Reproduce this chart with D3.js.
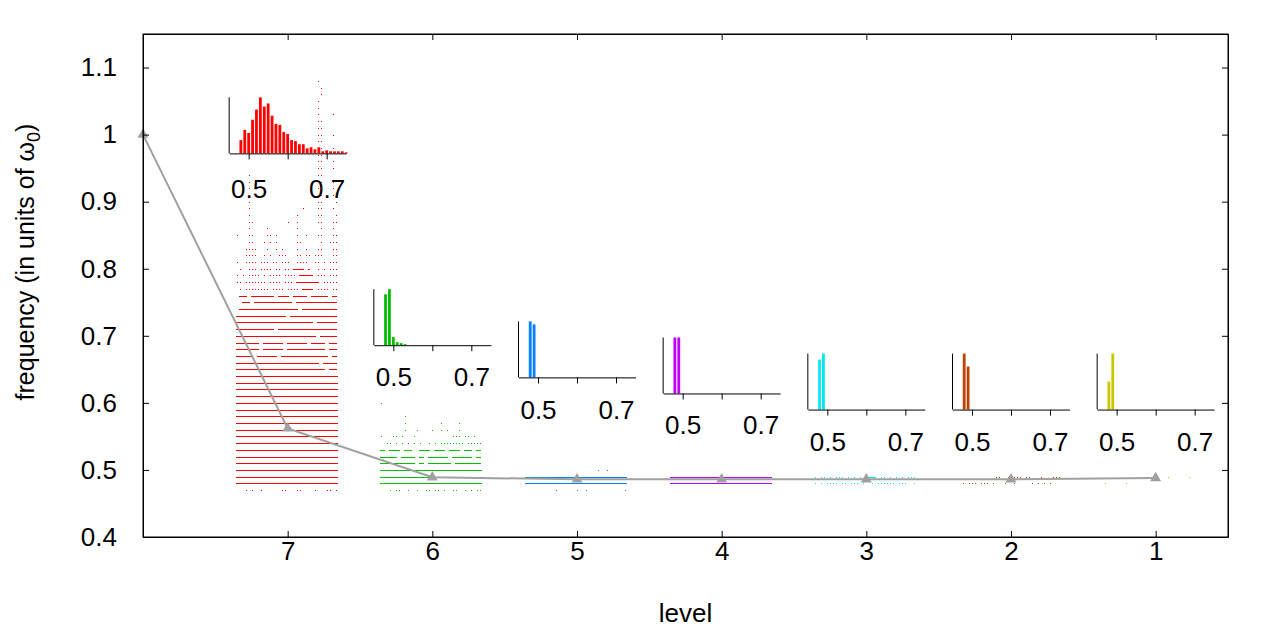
<!DOCTYPE html>
<html>
<head>
<meta charset="UTF-8">
<title>level spectra</title>
<style>
  body { margin: 0; background: #fff; }
  svg text { font-family: "Liberation Sans", Arial, Helvetica, sans-serif; }
</style>
</head>
<body>
<script src="https://cdn.jsdelivr.net/npm/d3@7/dist/d3.min.js"></script>
<svg id="chart" width="1280" height="640"></svg>
<script>
// ---------------- data ----------------
const levels = [7, 6, 5, 4, 3, 2, 1];
const yTicks = [0.4, 0.5, 0.6, 0.7, 0.8, 0.9, 1.0, 1.1];

// mean frequency per level (grey line)
const meanLevel = [8, 7, 6, 5, 4, 3, 2, 1];
const meanFreq = [1.0, 0.562, 0.489, 0.486, 0.486, 0.486, 0.486, 0.488];

// histograms (inset) per level
const hist7Freq = [0.48, 0.49, 0.50, 0.51, 0.52, 0.53, 0.54, 0.55, 0.56, 0.57, 0.58, 0.59, 0.60, 0.61,
                   0.62, 0.63, 0.64, 0.65, 0.66, 0.67, 0.68, 0.69, 0.70, 0.71, 0.72, 0.73, 0.74, 0.75];
const hist7Count = [13, 23, 20, 33, 43, 55, 46, 49, 37, 29, 28, 21, 19, 13,
                    12, 9, 9, 5, 6, 4, 6, 2, 3, 2, 2, 2, 2, 1];
const hist6Freq = [0.48, 0.49, 0.50, 0.51, 0.52, 0.53];
const hist6Count = [50, 55, 8, 3, 2, 1];
const histLowFreq = [0.48, 0.49];
const hist5Count = [56, 53];
const hist4Count = [56, 56];
const hist3Count = [50, 56];
const hist2Count = [56, 43];
const hist1Count = [28, 56];

// spectra: full rows, patterned rows ('#' filled bin, '+' single dot), sparse rows (bin indices)
const full7 = [0.64, 0.63, 0.62, 0.61, 0.60, 0.59, 0.58, 0.57, 0.56, 0.55, 0.54, 0.53, 0.52, 0.51, 0.50, 0.49, 0.48];
const dash7 = [
  [0.80, ".+..+++.++++.++.++.####.#..+.+.+++"],
  [0.79, "+.+.++++.+.++++.++++.#####.+++.+++"],
  [0.78, "++.+++++++.++++.+++.########.+++++"],
  [0.77, ".+.++++++++.++++.++++.####.++++.++"],
  [0.76, ".###.########.####.#####.######.##"],
  [0.75, "..###.#############.##############"],
  [0.74, ".####################.############"],
  [0.73, "#################.################"],
  [0.72, "##########################.#######"],
  [0.71, "#############.####################"],
  [0.70, "###########################.######"],
  [0.69, "########.#######.#######.#####.###"],
  [0.68, "########.#######.#############.###"],
  [0.67, "######.#######.################.##"],
  [0.66, "############################.#####"],
  [0.65, "##############################.###"]
];
const dots7 = [
  [1.08, [27]], [1.07, [28]], [1.06, [28]], [1.05, [27]], [1.04, [27]], [1.03, [27, 32]],
  [1.02, [27, 28]], [1.01, [27, 28]], [1.00, [27, 28, 32]], [0.99, [27, 28]], [0.98, [27, 28, 32]],
  [0.97, [27, 28]], [0.96, [27, 28, 32]], [0.95, [27, 28, 32]], [0.94, [4, 27, 28]],
  [0.93, [4, 27, 28, 32]], [0.92, [4, 27, 28, 32]], [0.91, [4, 27, 28, 32]], [0.90, [4, 27, 28, 33]],
  [0.89, [4, 22, 27, 28, 32]], [0.88, [4, 20, 27, 28, 33]], [0.87, [4, 5, 17, 20, 27, 28, 32, 33]],
  [0.86, [4, 10, 20, 28, 32]],
  [0.85, [0, 4, 5, 10, 11, 13, 20, 23, 27, 28, 32, 33]],
  [0.84, [4, 5, 9, 11, 13, 20, 21, 28, 31, 32, 33]],
  [0.83, [3, 4, 5, 6, 10, 13, 15, 20, 23, 27, 28, 32, 33]],
  [0.82, [3, 4, 5, 6, 9, 11, 14, 15, 16, 20, 21, 23, 24, 26, 27, 28, 32, 33]],
  [0.81, [0, 3, 4, 5, 6, 8, 9, 10, 12, 13, 15, 16, 17, 20, 21, 22, 23, 26, 27, 29, 31, 32, 33]],
  [0.47, [3, 5, 8, 15, 16, 20, 21, 26, 30, 31, 33]]
];

const full6 = [0.50, 0.49, 0.48];
const dash6 = [
  [0.53, "##.####.###..####.####.####.###.##"],
  [0.52, "######.#####.##.#######.#######.##"],
  [0.51, "############.##.########.#########"]
];
const dots6 = [
  [0.60, [0]], [0.58, [8]], [0.57, [8, 20, 26]], [0.56, [8, 12, 17, 20, 22, 26]],
  [0.55, [0, 4, 5, 7, 11, 24, 25, 26, 28, 29, 31]],
  [0.54, [2, 3, 5, 7, 9, 11, 13, 16, 18, 20, 21, 22, 23, 24, 25, 26, 27, 29, 30, 31, 32, 33]],
  [0.47, [3, 5, 6, 9, 12, 15, 16, 18, 19, 21, 24, 25, 28, 30, 32, 33]]
];

const full5 = [0.49, 0.48];
const dots5 = [[0.50, [24, 27]], [0.47, [10, 17, 20, 33]]];

const full4 = [0.49, 0.48];

const dash3 = [
  [0.49, "+.++.+.+++.+.+.+.####.++.+.+.+.+++"],
  [0.48, "+.+.++++.++.+++.+..+.++++++.+++..+"]
];

const dots2 = [
  [0.49, [12, 13, 16, 18, 19, 20, 22, 23, 27, 31, 32, 33]],
  [0.48, [1, 3, 4, 5, 7, 8, 9, 11, 15, 18, 24, 26, 28, 30]]
];

const dots1 = [[0.49, [14, 21, 28]], [0.48, [0, 7]]];

// ---------------- style / layout ----------------
const levelColors = ["#ff0000", "#00c000", "#0080ff", "#c000ff", "#00e8ee", "#c04000", "#c8c800"];
const insetBase = [0.972, 0.686, 0.638, 0.614, 0.590, 0.590, 0.590];   // inset x-axis height (frequency units)
const insetLabelGap = [45, 41, 42, 41, 41, 41, 41];
const nBins = 34;

const histFreq = [hist7Freq, hist6Freq, histLowFreq, histLowFreq, histLowFreq, histLowFreq, histLowFreq];
const histCount = [hist7Count, hist6Count, hist5Count, hist4Count, hist3Count, hist2Count, hist1Count];
const spectra = [
  { full: full7, dash: dash7, dots: dots7 },
  { full: full6, dash: dash6, dots: dots6 },
  { full: full5, dash: [], dots: dots5 },
  { full: full4, dash: [], dots: [] },
  { full: [], dash: dash3, dots: [] },
  { full: [], dash: [], dots: dots2 },
  { full: [], dash: [], dots: dots1 }
];

const svg = d3.select("#chart");
const FONT = "'Liberation Sans', Arial, Helvetica, sans-serif";
const FS = 26;
const CAP = 0.71 * FS;

const x = d3.scaleLinear().domain([8, 0.5]).range([143, 1228]);
const y = d3.scaleLinear().domain([0.4, 1.15]).range([537, 34]);

function styleAxis(g) {
  g.attr("font-family", FONT).attr("font-size", FS);
  g.selectAll("text").attr("fill", "#000");
  g.selectAll("line,path").attr("stroke", "#000").attr("stroke-width", 1);
}

// ---------------- insets (histograms) ----------------
levels.forEach((L, k) => {
  const cx = x(L), base = y(insetBase[k]);
  const ix = d3.scaleLinear().domain([0.45, 0.75]).range([cx - 58.5, cx + 58.5]);
  const iy = d3.scaleLinear().domain([0, d3.max(histCount[k])]).range([base, base - 56]);
  const g = svg.append("g");
  const bars = histFreq[k].map((f, i) => ({ f: f, c: histCount[k][i] }));
  g.selectAll("rect").data(bars).join("rect")
    .attr("x", d => ix(d.f - 0.0036))
    .attr("width", d => ix(d.f + 0.0036) - ix(d.f - 0.0036))
    .attr("y", d => iy(d.c))
    .attr("height", d => base - iy(d.c))
    .attr("fill", levelColors[k]);
  const ax = d3.axisBottom(ix).tickValues([0.5, 0.6, 0.7])
    .tickSizeInner(6).tickSizeOuter(0)
    .tickPadding(insetLabelGap[k] - 6 - CAP)
    .tickFormat(d => d === 0.6 ? "" : d3.format(".1f")(d));
  g.append("g").attr("transform", `translate(0,${base})`).call(ax).call(styleAxis);
  g.append("line")
    .attr("x1", ix(0.45)).attr("x2", ix(0.45))
    .attr("y1", base).attr("y2", base - 56)
    .attr("stroke", "#000");
});

// ---------------- spectra (level bands) ----------------
levels.forEach((L, k) => {
  const s = spectra[k];
  const x0 = x(L + 0.36), x1 = x(L - 0.345);
  const bw = (x1 - x0) / nBins;
  const g = svg.append("g").attr("fill", levelColors[k]).attr("shape-rendering", "crispEdges");
  const rows = [];
  s.full.forEach(f => rows.push({ f: f, a: x0, w: x1 - x0 }));
  s.dash.forEach(([f, pat]) => {
    let i = 0;
    while (i < pat.length) {
      if (pat[i] === "#") {
        let j = i;
        while (j < pat.length && pat[j] === "#") j++;
        rows.push({ f: f, a: x0 + i * bw, w: (j - i) * bw - 1 });
        i = j;
      } else {
        if (pat[i] === "+") rows.push({ f: f, a: x0 + i * bw + 1, w: 1 });
        i++;
      }
    }
  });
  s.dots.forEach(([f, idx]) => idx.forEach(b => rows.push({ f: f, a: x0 + b * bw + 1, w: 1 })));
  g.selectAll("rect").data(rows).join("rect")
    .attr("x", d => Math.round(d.a))
    .attr("width", d => Math.max(1, Math.round(d.w)))
    .attr("y", d => Math.round(y(d.f)))
    .attr("height", 1);
});

// ---------------- mean line ----------------
const pts = meanLevel.map((l, i) => [l, meanFreq[i]]);
svg.append("path")
  .attr("d", d3.line().x(d => x(d[0])).y(d => y(d[1]))(pts))
  .attr("fill", "none").attr("stroke", "#a0a0a0").attr("stroke-width", 2);
svg.append("g").selectAll("path").data(pts).join("path")
  .attr("transform", d => `translate(${x(d[0])},${y(d[1])})`)
  .attr("d", d3.symbol(d3.symbolTriangle, 52))
  .attr("fill", "#a0a0a0");

// ---------------- axes & frame ----------------
svg.append("g").attr("transform", "translate(143,0)")
  .call(d3.axisLeft(y).tickValues(yTicks).tickSizeInner(-6).tickSizeOuter(0).tickPadding(26)
    .tickFormat(d => d3.format("~g")(d)))
  .call(styleAxis);
svg.append("g").attr("transform", "translate(1228,0)")
  .call(d3.axisRight(y).tickValues(yTicks).tickSizeInner(-6).tickSizeOuter(0).tickFormat(""))
  .call(styleAxis);
svg.append("g").attr("transform", "translate(0,537)")
  .call(d3.axisBottom(x).tickValues(levels).tickSizeInner(-6).tickSizeOuter(0).tickPadding(23 - CAP)
    .tickFormat(d3.format("d")))
  .call(styleAxis);
svg.append("g").attr("transform", "translate(0,34)")
  .call(d3.axisTop(x).tickValues(levels).tickSizeInner(-6).tickSizeOuter(0).tickFormat(""))
  .call(styleAxis);
svg.append("rect")
  .attr("x", 143).attr("y", 34).attr("width", 1228 - 143).attr("height", 537 - 34)
  .attr("fill", "none").attr("stroke", "#000").attr("stroke-width", 1);

// labels
svg.append("text")
  .attr("x", 685.5).attr("y", 622)
  .attr("text-anchor", "middle").attr("font-size", FS)
  .text("level");
const yl = svg.append("text")
  .attr("transform", "translate(34,262) rotate(-90)")
  .attr("text-anchor", "middle").attr("font-size", 25);
yl.append("tspan").text("frequency (in units of ω");
yl.append("tspan").attr("font-size", 18).attr("dy", 6).text("0");
yl.append("tspan").attr("dy", -6).text(")");
</script>
</body>
</html>
